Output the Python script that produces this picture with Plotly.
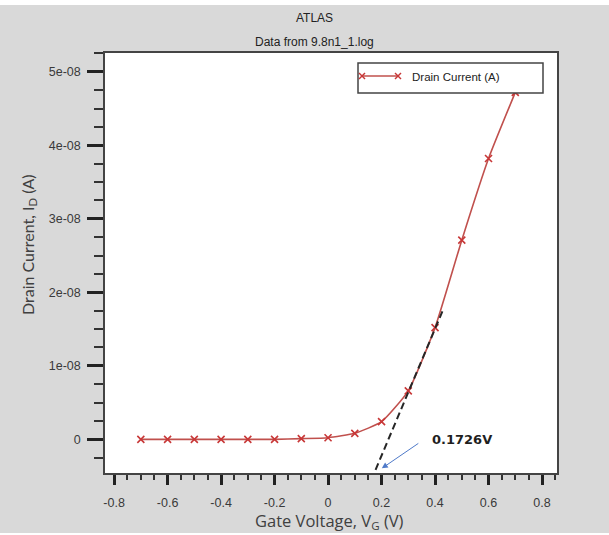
import plotly.graph_objects as go

# Transfer characteristic from the ATLAS log
gate_voltage = [-0.7, -0.6, -0.5, -0.4, -0.3, -0.2, -0.1, 0.0, 0.1, 0.2, 0.3, 0.4, 0.5, 0.6, 0.7]
drain_current = [0.0, 0.0, 0.0, 0.0, 0.0, 0.0, 0.9e-10, 2.2e-10, 8.2e-10, 2.4e-09,
                 6.6e-09, 1.52e-08, 2.71e-08, 3.82e-08, 4.72e-08]

x_tick_vals = [-0.8, -0.6, -0.4, -0.2, 0.0, 0.2, 0.4, 0.6, 0.8]
x_tick_text = ["-0.8", "-0.6", "-0.4", "-0.2", "0", "0.2", "0.4", "0.6", "0.8"]
y_tick_vals = [0.0, 1e-08, 2e-08, 3e-08, 4e-08, 5e-08]
y_tick_text = ["0", "1e-08", "2e-08", "3e-08", "4e-08", "5e-08"]

x_range = [-0.834, 0.856]
y_range = [-0.458e-08, 5.256e-08]

# Linear-region extrapolation used to read the threshold voltage
vth = 0.1726
tangent_top = (0.432, 1.78e-08)

W, H = 609, 535
ML, MR, MT, MB = 105, 52, 53, 62
PW, PH = W - ML - MR, H - MT - MB


def px(xp):
    return (xp - ML) / PW


def py(yp):
    return (H - MB - yp) / PH


LINE_RED = "#c0504d"
MARK_RED = "#c83737"
GREY_BG = "#d9d9d9"
SANS = "Liberation Sans, Arial"
TICK_FONT = dict(family=SANS, size=12.5, color="#3a3a3a")

fig = go.Figure()

fig.add_trace(go.Scatter(
    x=gate_voltage, y=drain_current,
    mode="lines+markers",
    line=dict(color=LINE_RED, width=1.6, shape="spline", smoothing=0.5),
    marker=dict(symbol="x-thin", size=7, line=dict(color=MARK_RED, width=1.6)),
    name="Drain Current (A)",
    showlegend=False,
))

# tangent line through the threshold point
slope = (tangent_top[1] - y_range[0]) / (tangent_top[0] - vth)
x_low = vth - 0.011
fig.add_shape(type="line", xref="x", yref="y",
              x0=x_low, y0=y_range[0] - slope * (vth - x_low),
              x1=tangent_top[0], y1=tangent_top[1],
              line=dict(color="#262626", width=2, dash="7px,4px"))

shapes = []
# white page margin around the grey panel
for (x0, x1, y0, y1) in [
    (px(0), px(11), py(H), py(0)),
    (px(0), px(W), py(5), py(0)),
    (px(0), px(W), py(H), py(533)),
]:
    shapes.append(dict(type="rect", xref="paper", yref="paper", x0=x0, x1=x1, y0=y0, y1=y1,
                       fillcolor="white", line=dict(width=0), layer="below"))

# legend box
shapes.append(dict(type="rect", xref="paper", yref="paper",
                   x0=px(358), x1=px(543), y0=py(93), y1=py(63),
                   fillcolor="white", line=dict(color="#444444", width=1.5)))
shapes.append(dict(type="line", xref="paper", yref="paper",
                   x0=px(362), x1=px(398), y0=py(76), y1=py(76),
                   line=dict(color=LINE_RED, width=1.6)))
for cx in (362, 398):
    for d in (1, -1):
        shapes.append(dict(type="line", xref="paper", yref="paper",
                           x0=px(cx - 3), x1=px(cx + 3), y0=py(76 - 3 * d), y1=py(76 + 3 * d),
                           line=dict(color=MARK_RED, width=1.4)))


def label(text, xp, yp, size, family=SANS, color="#222222", xanchor="center", angle=0):
    return dict(text=text, xref="paper", yref="paper", x=px(xp), y=py(yp),
                xanchor=xanchor, yanchor="middle", showarrow=False, textangle=angle,
                font=dict(family=family, size=size, color=color))


annotations = [
    label("ATLAS", 314, 18, 12),
    label("Data from 9.8n1_1.log", 314, 42, 12),
    label("Drain Current (A)", 410, 77, 11.5, xanchor="left"),
    label("Gate Voltage, V<sub>G</sub> (V)", 329, 521, 16.5, family="Open Sans", color="#404040"),
    label("Drain Current, I<sub>D</sub> (A)", 28, 245, 16, family="Lato", color="#404040", angle=-90),
    dict(text="<b>%.4fV</b>" % vth, xref="x", yref="y", x=0.382, y=0.0,
         xanchor="left", yanchor="middle", showarrow=False,
         font=dict(family="DejaVu Sans", size=13, color="#1f1f1f")),
    dict(text="", xref="x", yref="y", x=0.201, y=-0.395e-08,
         ax=38, ay=-26, showarrow=True, arrowhead=2, arrowsize=1.2,
         arrowwidth=1, arrowcolor="#4f7ac9"),
]

fig.update_layout(
    width=W, height=H, autosize=False,
    margin=dict(l=ML, r=MR, t=MT, b=MB),
    paper_bgcolor=GREY_BG, plot_bgcolor="white",
    shapes=shapes, annotations=annotations,
    xaxis=dict(
        range=x_range, tickmode="array", tickvals=x_tick_vals, ticktext=x_tick_text,
        ticks="outside", ticklen=10, tickwidth=2.5, tickcolor="#222222",
        ticklabelstandoff=7,
        minor=dict(ticks="outside", ticklen=5, tickwidth=1.5, tickcolor="#333333",
                   dtick=0.05, tick0=0, showgrid=False),
        showline=True, linecolor="#444444", linewidth=1.5, mirror=True,
        showgrid=False, zeroline=False, tickfont=TICK_FONT,
    ),
    yaxis=dict(
        range=y_range, tickmode="array", tickvals=y_tick_vals, ticktext=y_tick_text,
        ticks="outside", ticklen=16, tickwidth=2.5, tickcolor="#222222",
        ticklabelstandoff=4,
        minor=dict(ticks="outside", ticklen=9, tickwidth=1.5, tickcolor="#333333",
                   dtick=0.25e-08, tick0=0, showgrid=False),
        showline=True, linecolor="#444444", linewidth=1.5, mirror=True,
        showgrid=False, zeroline=False, tickfont=TICK_FONT,
    ),
)

fig.write_html("out.html")
